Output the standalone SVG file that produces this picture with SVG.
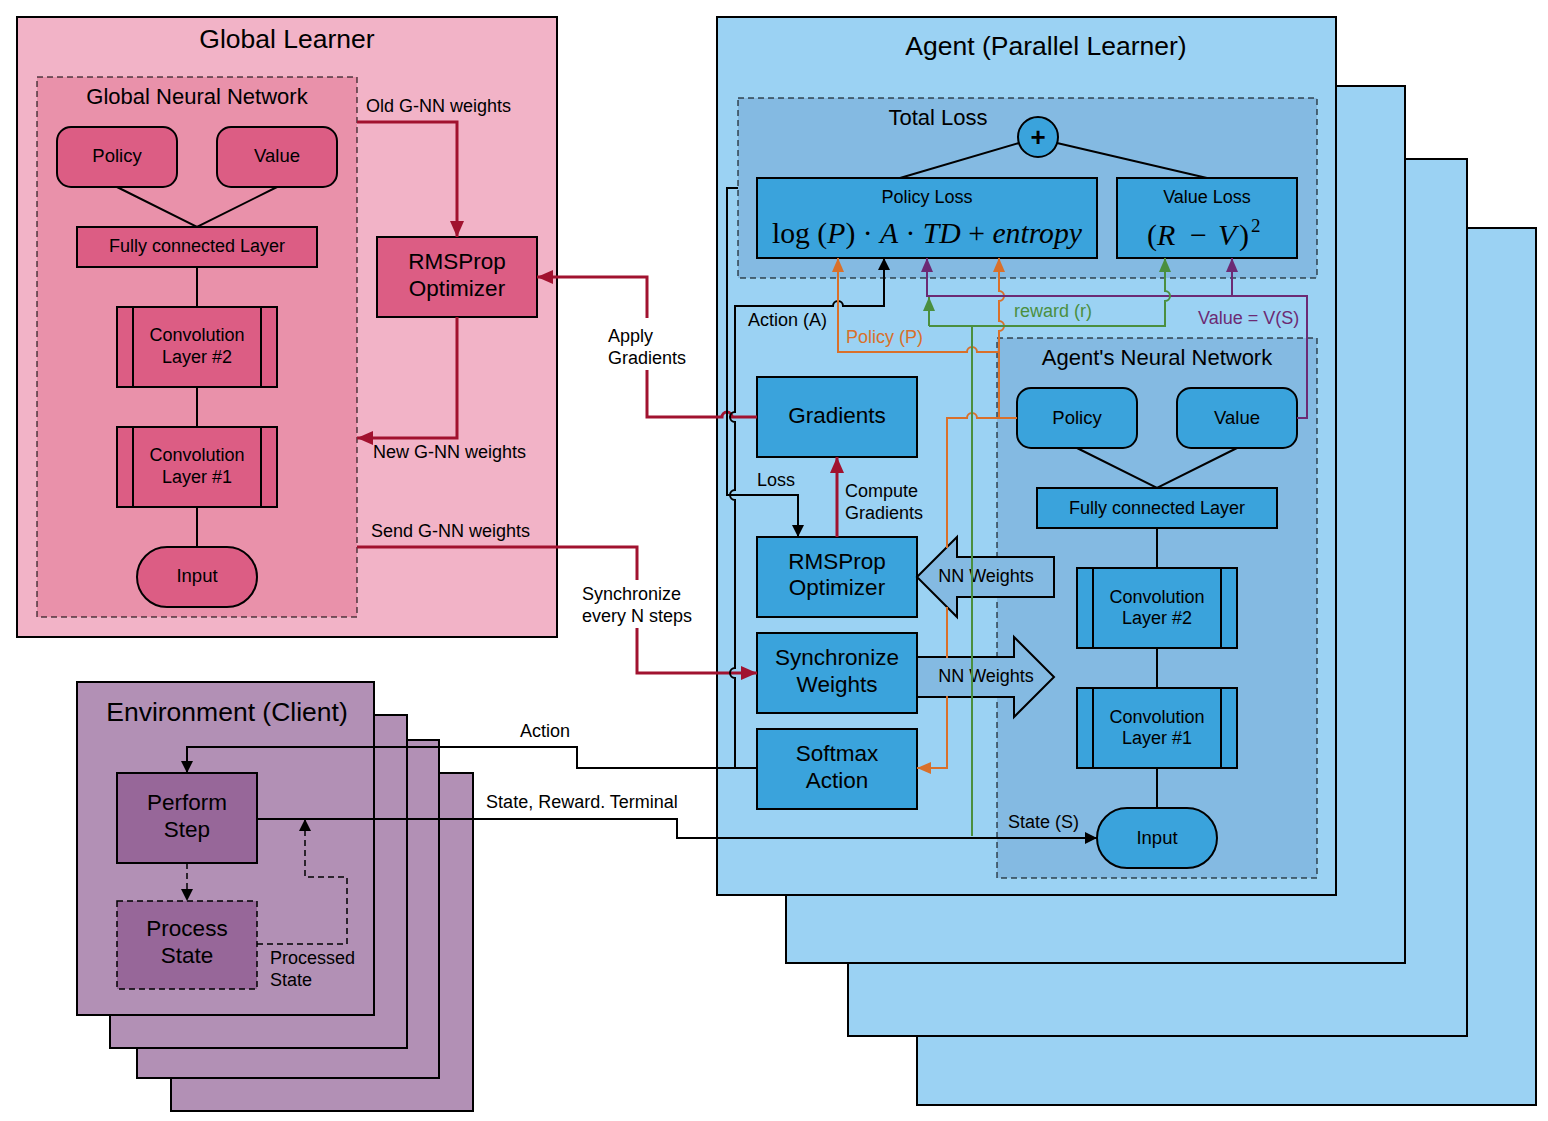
<svg xmlns="http://www.w3.org/2000/svg" width="1548" height="1121" viewBox="0 0 1548 1121">
<style>
text { font-family: "Liberation Sans", Arial, sans-serif; fill: #000; }
.c { text-anchor: middle; }
.s16 { font-size: 18px; }
.s17 { font-size: 18.5px; }
.s20 { font-size: 22px; }
.s21 { font-size: 22.5px; }
.s24 { font-size: 26.5px; }
.frame { stroke: #000; stroke-width: 2; }
.gl { fill: #f2b3c7; }
.gln { fill: #e991aa; stroke: #000; stroke-width: 1; stroke-dasharray: 6 4; }
.gnode { fill: #dc5d84; stroke: #000; stroke-width: 2; }
.ag { fill: #9bd2f3; }
.agn { fill: #84bae2; stroke: #000; stroke-width: 1; stroke-dasharray: 6 4; }
.anode { fill: #3aa3dc; stroke: #000; stroke-width: 2; }
.bigarrow { fill: #84bae2; stroke: #000; stroke-width: 2; }
.env { fill: #b290b5; }
.enode { fill: #976799; stroke: #000; stroke-width: 2; }
.ln { fill: none; stroke: #000; stroke-width: 2; }
.red { fill: none; stroke: #a1122f; stroke-width: 3; }
.org { fill: none; stroke: #d9702a; stroke-width: 2; }
.grn { fill: none; stroke: #4a8f3f; stroke-width: 2; }
.pur { fill: none; stroke: #6c2a74; stroke-width: 2; }
.dash { fill: none; stroke: #000; stroke-width: 1.5; stroke-dasharray: 6 4; }
.math { font-family: "Liberation Serif", "Times New Roman", serif; font-size: 30px; }
</style>
<defs>
<marker id="ak" markerUnits="userSpaceOnUse" markerWidth="12" markerHeight="12" refX="12" refY="6" orient="auto"><path d="M0,0 L12,6 L0,12 z" fill="#000"/></marker>
<marker id="ar" markerUnits="userSpaceOnUse" markerWidth="16" markerHeight="14" refX="16" refY="7" orient="auto"><path d="M0,0 L16,7 L0,14 z" fill="#a1122f"/></marker>
<marker id="ao" markerUnits="userSpaceOnUse" markerWidth="14" markerHeight="12" refX="14" refY="6" orient="auto"><path d="M0,0 L14,6 L0,12 z" fill="#d9702a"/></marker>
<marker id="ag" markerUnits="userSpaceOnUse" markerWidth="14" markerHeight="12" refX="14" refY="6" orient="auto"><path d="M0,0 L14,6 L0,12 z" fill="#4a8f3f"/></marker>
<marker id="ap" markerUnits="userSpaceOnUse" markerWidth="14" markerHeight="12" refX="14" refY="6" orient="auto"><path d="M0,0 L14,6 L0,12 z" fill="#6c2a74"/></marker>
</defs>

<rect width="1548" height="1121" fill="#ffffff"/>

<!-- Global Learner -->
<g id="global-learner">
<rect class="gl frame" x="17" y="17" width="540" height="620"/>
<text class="c s24" x="287" y="47.5">Global Learner</text>
</g>
<g id="global-nn">
<rect class="gln" x="37" y="77" width="320" height="540"/>
<text class="c s20" x="197" y="104">Global Neural Network</text>
</g>
<g id="g-policy">
<rect class="gnode" x="57" y="127" width="120" height="60" rx="14"/>
<text class="c s17" x="117" y="161.7">Policy</text>
</g>
<g id="g-value">
<rect class="gnode" x="217" y="127" width="120" height="60" rx="14"/>
<text class="c s17" x="277" y="161.7">Value</text>
</g>
<g id="g-fc">
<rect class="gnode" x="77" y="227" width="240" height="40"/>
<text class="c s16" x="197" y="251.5">Fully connected Layer</text>
</g>
<g id="g-conv2">
<rect class="gnode" x="117" y="307" width="160" height="80"/>
<line class="ln" x1="133" y1="307" x2="133" y2="387"/>
<line class="ln" x1="261" y1="307" x2="261" y2="387"/>
<text class="c s16" x="197" y="340.5">Convolution</text>
<text class="c s16" x="197" y="362.5">Layer #2</text>
</g>
<g id="g-conv1">
<rect class="gnode" x="117" y="427" width="160" height="80"/>
<line class="ln" x1="133" y1="427" x2="133" y2="507"/>
<line class="ln" x1="261" y1="427" x2="261" y2="507"/>
<text class="c s16" x="197" y="460.5">Convolution</text>
<text class="c s16" x="197" y="482.5">Layer #1</text>
</g>
<g id="g-input">
<rect class="gnode" x="137" y="547" width="120" height="60" rx="30"/>
<text class="c s17" x="197" y="581.7">Input</text>
</g>
<g id="g-rmsprop">
<rect class="gnode" x="377" y="237" width="160" height="80"/>
<text class="c s21" x="457" y="269">RMSProp</text>
<text class="c s21" x="457" y="296">Optimizer</text>
</g>

<!-- Agent stack -->
<g id="agent-stack">
<rect class="ag frame" x="917" y="228" width="619" height="877"/>
<rect class="ag frame" x="848" y="159" width="619" height="877"/>
<rect class="ag frame" x="786" y="86" width="619" height="877"/>
</g>
<g id="agent">
<rect class="ag frame" x="717" y="17" width="619" height="878"/>
<text class="c s24" x="1046" y="54.5">Agent (Parallel Learner)</text>
</g>
<g id="total-loss">
<rect class="agn" x="738" y="98" width="579" height="180"/>
<text class="c s20" x="938" y="125">Total Loss</text>
</g>
<g id="plus">
<circle class="anode" cx="1038" cy="137" r="20"/>
<text class="c" x="1038" y="146" style="font-size:26px;font-weight:bold">+</text>
</g>
<g id="policy-loss">
<rect class="anode" x="757" y="178" width="340" height="80"/>
<text class="c s16" x="927" y="202.5">Policy Loss</text>
<text class="math" x="772" y="243" textLength="310" lengthAdjust="spacingAndGlyphs">log (<tspan font-style="italic">P</tspan>) · <tspan font-style="italic">A</tspan> · <tspan font-style="italic">TD</tspan> + <tspan font-style="italic">entropy</tspan></text>
</g>
<g id="value-loss">
<rect class="anode" x="1117" y="178" width="180" height="80"/>
<text class="c s16" x="1207" y="202.5">Value Loss</text>
<text class="math" y="245"><tspan x="1147">(</tspan><tspan x="1157" font-style="italic">R</tspan><tspan x="1190">−</tspan><tspan x="1218" font-style="italic">V</tspan><tspan x="1239">)</tspan><tspan x="1251" font-size="19" dy="-13">2</tspan></text>
</g>
<g id="agent-nn">
<rect class="agn" x="997" y="338" width="320" height="540"/>
<text class="c s20" x="1157" y="365">Agent's Neural Network</text>
</g>
<g id="a-policy">
<rect class="anode" x="1017" y="388" width="120" height="60" rx="14"/>
<text class="c s17" x="1077" y="423.7">Policy</text>
</g>
<g id="a-value">
<rect class="anode" x="1177" y="388" width="120" height="60" rx="14"/>
<text class="c s17" x="1237" y="423.7">Value</text>
</g>
<g id="a-fc">
<rect class="anode" x="1037" y="488" width="240" height="40"/>
<text class="c s16" x="1157" y="513.5">Fully connected Layer</text>
</g>
<g id="a-conv2">
<rect class="anode" x="1077" y="568" width="160" height="80"/>
<line class="ln" x1="1093" y1="568" x2="1093" y2="648"/>
<line class="ln" x1="1221" y1="568" x2="1221" y2="648"/>
<text class="c s16" x="1157" y="602.5">Convolution</text>
<text class="c s16" x="1157" y="623.5">Layer #2</text>
</g>
<g id="a-conv1">
<rect class="anode" x="1077" y="688" width="160" height="80"/>
<line class="ln" x1="1093" y1="688" x2="1093" y2="768"/>
<line class="ln" x1="1221" y1="688" x2="1221" y2="768"/>
<text class="c s16" x="1157" y="722.5">Convolution</text>
<text class="c s16" x="1157" y="743.5">Layer #1</text>
</g>
<g id="a-input">
<rect class="anode" x="1097" y="808" width="120" height="60" rx="30"/>
<text class="c s17" x="1157" y="843.7">Input</text>
</g>
<g id="gradients">
<rect class="anode" x="757" y="377" width="160" height="80"/>
<text class="c s21" x="837" y="423">Gradients</text>
</g>
<g id="a-rmsprop">
<rect class="anode" x="757" y="537" width="160" height="80"/>
<text class="c s21" x="837" y="569">RMSProp</text>
<text class="c s21" x="837" y="595">Optimizer</text>
</g>
<g id="sync-weights">
<rect class="anode" x="757" y="633" width="160" height="80"/>
<text class="c s21" x="837" y="665">Synchronize</text>
<text class="c s21" x="837" y="692">Weights</text>
</g>
<g id="softmax">
<rect class="anode" x="757" y="729" width="160" height="80"/>
<text class="c s21" x="837" y="761">Softmax</text>
<text class="c s21" x="837" y="788">Action</text>
</g>
<g id="nn-weights-in">
<polygon class="bigarrow" points="917,577 957,537 957,557 1054,557 1054,597 957,597 957,617"/>
<text class="c s16" x="986" y="581.5">NN Weights</text>
</g>
<g id="nn-weights-out">
<polygon class="bigarrow" points="917,657 1014,657 1014,637 1054,677 1014,717 1014,697 917,697"/>
<text class="c s16" x="986" y="681.5">NN Weights</text>
</g>

<!-- Environment stack -->
<g id="env-stack">
<rect class="env frame" x="171" y="773" width="302" height="338"/>
<rect class="env frame" x="137" y="740" width="302" height="338"/>
<rect class="env frame" x="110" y="715" width="297" height="333"/>
</g>
<g id="environment">
<rect class="env frame" x="77" y="682" width="297" height="333"/>
<text class="c s24" x="227" y="720.5">Environment (Client)</text>
</g>
<g id="perform-step">
<rect class="enode" x="117" y="773" width="140" height="90"/>
<text class="c s21" x="187" y="810">Perform</text>
<text class="c s21" x="187" y="837">Step</text>
</g>
<g id="process-state">
<rect x="117" y="901" width="140" height="88" fill="#976799" stroke="#000" stroke-width="1.5" stroke-dasharray="6 4"/>
<text class="c s21" x="187" y="936">Process</text>
<text class="c s21" x="187" y="963">State</text>
</g>

<!-- Connectors -->
<g id="connectors">
<!-- Global learner internal -->
<path class="ln" d="M117,187 L197,227 L277,187"/>
<path class="ln" d="M197,267 V307 M197,387 V427 M197,507 V547"/>
<!-- Agent NN internal -->
<path class="ln" d="M1077,448 L1157,488 L1237,448"/>
<path class="ln" d="M1157,528 V568 M1157,648 V688 M1157,768 V808"/>
<!-- Total loss -->
<path class="ln" d="M900,178 L1019,143 M1057,143 L1207,178"/>

<!-- red -->
<path class="red" d="M357,122 H457 V237" marker-end="url(#ar)"/>
<path class="red" d="M457,317 V438 H357" marker-end="url(#ar)"/>
<path class="red" d="M757,417 H732 A5,5 0 0 0 722,417 H647 V370 M647,318 V277 H537" marker-end="url(#ar)"/>
<path class="red" d="M357,547 H637 V580 M637,628 V673 H757" marker-end="url(#ar)"/>
<path class="red" d="M837,537 V457" marker-end="url(#ar)"/>

<!-- black agent lines -->
<path class="ln" d="M738,188 H727 V495 H798 V537" marker-end="url(#ak)"/>
<path class="ln" d="M735,768 V678 A5,5 0 0 1 735,668 V500 A5,5 0 0 1 735,490 V422 A5,5 0 0 1 735,412 V306 H833 A5,5 0 0 1 843,306 H884 V258" marker-end="url(#ak)"/>
<path class="ln" d="M757,768 H577 V747 H187 V773" marker-end="url(#ak)"/>
<path class="ln" d="M257,819 H677 V838 H1097" marker-end="url(#ak)"/>
<path class="dash" d="M187,863 V901" marker-end="url(#ak)"/>
<path class="dash" d="M257,944 H347 V877 H305 V819" marker-end="url(#ak)"/>

<!-- orange -->
<path class="org" d="M1017,418 H977 A5,5 0 0 0 967,418 H947 V548 M947,607 V658 M947,696 V768 H917" marker-end="url(#ao)"/>
<path class="org" d="M999,418 V331 A5,5 0 0 0 999,321 V301 A5,5 0 0 0 999,291 V258" marker-end="url(#ao)"/>
<path class="org" d="M999,352 H977 A5,5 0 0 0 967,352 H838 V258" marker-end="url(#ao)"/>

<!-- purple -->
<path class="pur" d="M1297,418 H1307 V296 H927 V258" marker-end="url(#ap)"/>
<path class="pur" d="M1232,296 V258" marker-end="url(#ap)"/>

<!-- green -->
<path class="grn" d="M972,836 V326"/>
<path class="grn" d="M929,326 H1165 V301 A5,5 0 0 0 1165,291 V258" marker-end="url(#ag)"/>
<path class="grn" d="M929,326 V297" marker-end="url(#ag)"/>

<!-- labels -->
<text class="s16" x="366" y="111.5">Old G-NN weights</text>
<text class="s16" x="373" y="457.5">New G-NN weights</text>
<text class="s16" x="371" y="536.5">Send G-NN weights</text>
<text class="s16" x="608" y="341.5">Apply</text>
<text class="s16" x="608" y="363.5">Gradients</text>
<text class="s16" x="582" y="599.5">Synchronize</text>
<text class="s16" x="582" y="621.5">every N steps</text>
<text class="s16" x="748" y="325.5">Action (A)</text>
<text class="s16" x="846" y="342.5" style="fill:#d9702a">Policy (P)</text>
<text class="s16" x="1014" y="316.5" style="fill:#4a8f3f">reward (r)</text>
<text class="s16" x="1198" y="323.5" style="fill:#6c2a74">Value = V(S)</text>
<text class="s16" x="757" y="485.5">Loss</text>
<text class="s16" x="845" y="496.5">Compute</text>
<text class="s16" x="845" y="518.5">Gradients</text>
<text class="c s16" x="545" y="736.5">Action</text>
<text class="c s16" x="582" y="807.5">State, Reward. Terminal</text>
<text class="s16" x="1008" y="827.5">State (S)</text>
<text class="s16" x="270" y="963.5">Processed</text>
<text class="s16" x="270" y="985.5">State</text>
</g>
</svg>
